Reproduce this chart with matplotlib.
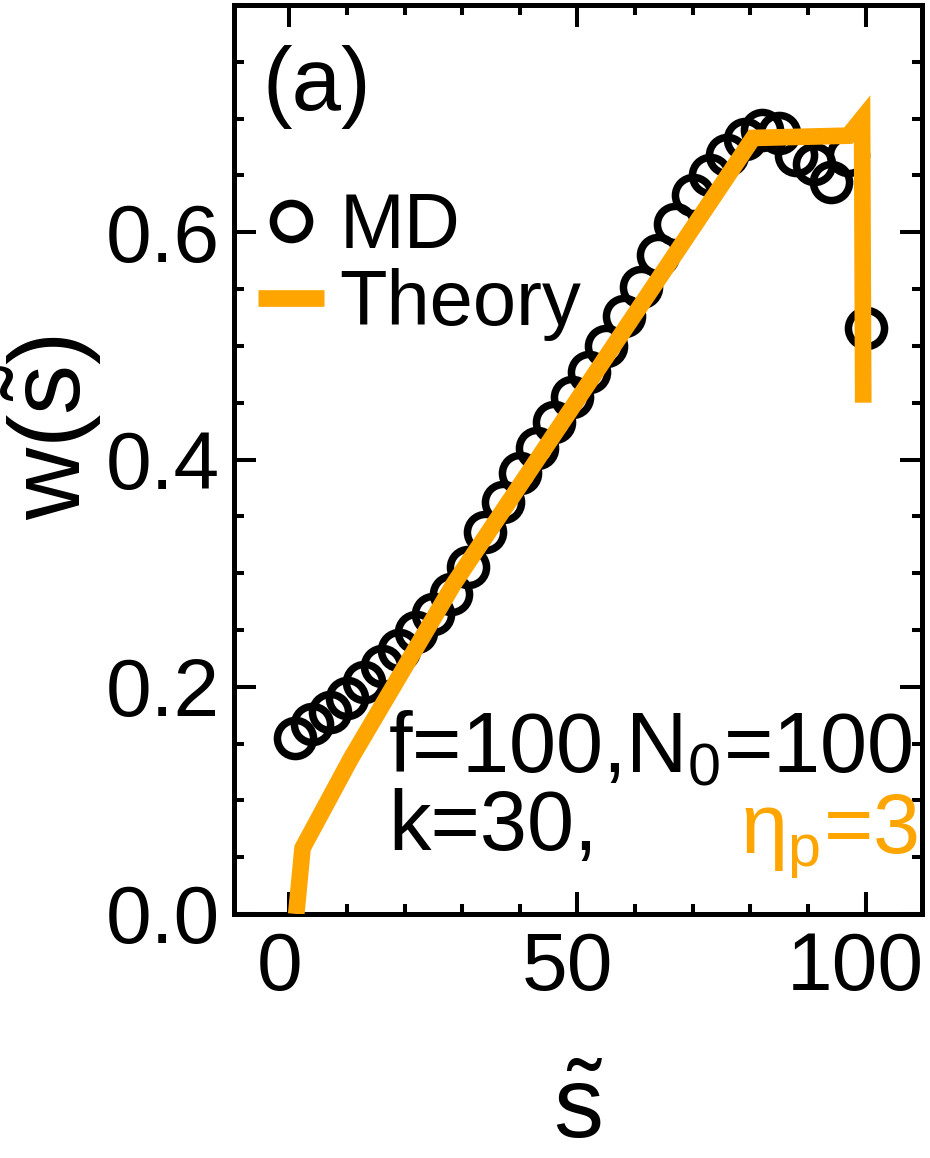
import matplotlib
matplotlib.use("Agg")
import matplotlib.pyplot as plt
from matplotlib.ticker import MultipleLocator, FixedLocator
from matplotlib.transforms import ScaledTranslation

plt.rcParams['font.family'] = ['Liberation Sans', 'DejaVu Sans']
plt.rcParams['mathtext.fontset'] = 'custom'
plt.rcParams['mathtext.rm'] = 'Liberation Sans'
plt.rcParams['mathtext.it'] = 'Liberation Sans'
plt.rcParams['mathtext.bf'] = 'Liberation Sans:bold'

# ---- data ----
md_s = [1, 4, 7, 10, 13, 16, 19, 22, 25, 28, 31, 34, 37, 40, 43, 46, 49,
        52, 55, 58, 61, 64, 67, 70, 73, 76, 79, 82, 85, 88, 91, 94, 97, 100]
md_w = [0.155, 0.167, 0.178, 0.190, 0.204, 0.218, 0.232, 0.248, 0.264, 0.282,
        0.305, 0.336, 0.363, 0.388, 0.410, 0.433, 0.455, 0.477, 0.500, 0.526,
        0.552, 0.580, 0.607, 0.633, 0.650, 0.668, 0.682, 0.690, 0.687, 0.668,
        0.660, 0.644, 0.668, 0.516]

th_s = [1.2, 2.3, 10.7, 28.6, 80.5, 97.0, 99.4, 99.6]
th_w = [0.0, 0.058, 0.137, 0.291, 0.683, 0.685, 0.700, 0.450]

xticks_major = [0, 50, 100]
yticks_major = [0.0, 0.2, 0.4, 0.6]
ytick_labels = ['0.0', '0.2', '0.4', '0.6']

orange = '#FFA500'

fig = plt.figure(figsize=(9.30, 11.58), dpi=100)
ax = fig.add_axes([234/930, 1 - 914/1158, (922-234)/930, (914-5)/1158])

ax.plot(md_s, md_w, linestyle='none', marker='o', markersize=26,
        markerfacecolor='none', markeredgecolor='black', markeredgewidth=5.4,
        label='MD', zorder=2)
ax.plot(th_s, th_w, color=orange, linewidth=12, solid_joinstyle='miter',
        solid_capstyle='butt', label='Theory', zorder=3)

ax.set_xlim(-9.6, 109.8)
ax.set_ylim(0, 0.8)

ax.xaxis.set_major_locator(FixedLocator(xticks_major))
ax.xaxis.set_minor_locator(MultipleLocator(10))
ax.yaxis.set_major_locator(FixedLocator(yticks_major))
ax.set_yticklabels(ytick_labels)
ax.yaxis.set_minor_locator(MultipleLocator(0.05))

for sp in ax.spines.values():
    sp.set_linewidth(3.6)

ax.tick_params(which='both', direction='in', top=True, right=True,
               width=2.9, labelsize=59, colors='black')
ax.tick_params(which='major', length=15.8)
ax.tick_params(which='minor', length=7.2)
ax.tick_params(axis='x', which='major', pad=12)
ax.tick_params(axis='y', which='major', pad=10)

shift = ScaledTranslation(-10/100, 0, fig.dpi_scale_trans)
for lab in ax.get_xticklabels():
    lab.set_transform(lab.get_transform() + shift)

ax.set_ylabel(r'$\mathrm{w(\tilde{s})}$', fontsize=72)
ax.set_xlabel(r'$\mathrm{\tilde{s}}$', fontsize=72)
ax.yaxis.set_label_coords(-0.189, 0.535)
ax.xaxis.set_label_coords(0.5, -0.166)
ax.xaxis.label.set_va('top')

ax.text(0.041, 0.884, '(a)', transform=ax.transAxes, fontsize=64,
        va='baseline', ha='left')

ax.text(0.224, 0.156, r'f=100,N$_\mathrm{0}$=100', transform=ax.transAxes,
        fontsize=61, va='baseline', ha='left')
ax.text(0.224, 0.070, 'k=30,', transform=ax.transAxes,
        fontsize=61, va='baseline', ha='left')
ax.text(0.994, 0.068, r'η$_\mathrm{p}$=3', transform=ax.transAxes,
        fontsize=61, va='baseline', ha='right', color=orange)

leg = ax.legend(loc='upper left', bbox_to_anchor=(0.035, 0.795), frameon=False,
                fontsize=56, handlelength=0.85, handletextpad=0.2,
                labelspacing=0.05, borderpad=0, borderaxespad=0)

fig.savefig('out.png', dpi=100)
